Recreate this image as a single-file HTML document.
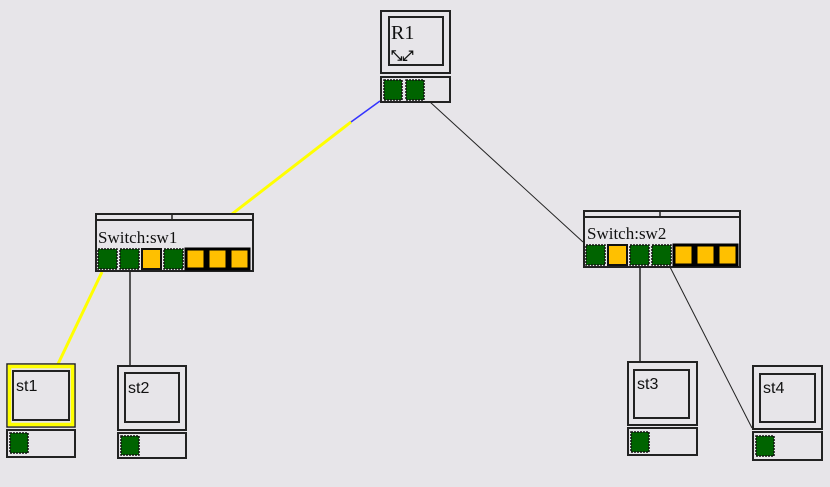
<!DOCTYPE html>
<html><head><meta charset="utf-8"><style>
html,body{margin:0;padding:0;background:#e7e5e9;}
svg{display:block}
text{font-family:"Liberation Serif",serif;font-size:17px;fill:#111}
.b{fill:none;stroke:#222;stroke-width:2}
.g{fill:#006400;stroke:#111;stroke-width:1.5;stroke-dasharray:2 1}
.y{fill:#ffc000;stroke:#111;stroke-width:2}
.yb{fill:#ffc000;stroke:#000;stroke-width:3}
.s{font-family:"Liberation Sans",sans-serif;font-size:16px}
</style></head><body>
<svg width="830" height="487" viewBox="0 0 830 487" xmlns="http://www.w3.org/2000/svg">
<line x1="232" y1="214" x2="351" y2="122" stroke="#ffff00" stroke-width="3"/>
<line x1="351" y1="122" x2="380" y2="101" stroke="#3333ff" stroke-width="1.5"/>
<line x1="430" y1="102" x2="583" y2="242" stroke="#222" stroke-width="1"/>
<line x1="102" y1="272" x2="58" y2="364" stroke="#ffff00" stroke-width="3"/>
<line x1="130" y1="272" x2="130" y2="366" stroke="#222" stroke-width="1.5"/>
<line x1="640" y1="267" x2="640" y2="362" stroke="#222" stroke-width="1.5"/>
<line x1="670" y1="267" x2="752" y2="428" stroke="#222" stroke-width="1"/>

<rect x="381" y="11" width="69" height="62" class="b"/>
<rect x="389" y="17" width="54" height="48" class="b"/>
<text x="391" y="39" style="font-size:20px">R1</text>
<text x="391" y="60" style="font-size:14px;font-family:'DejaVu Sans',sans-serif;font-weight:bold">⤡⤢</text>
<rect x="381" y="77" width="69" height="25" class="b"/>
<rect x="384" y="80" width="18" height="20" class="g"/>
<rect x="406" y="80" width="18" height="20" class="g"/>

<rect x="96" y="214" width="157" height="6" class="b"/>
<line x1="172" y1="214" x2="172" y2="220" stroke="#222" stroke-width="1.5"/>
<rect x="96" y="220" width="157" height="51" class="b"/>
<text x="98" y="243">Switch:sw1</text>
<rect x="98" y="249" width="19" height="20" class="g"/>
<rect x="120" y="249" width="19" height="20" class="g"/>
<rect x="142" y="249" width="19" height="20" class="y"/>
<rect x="164" y="249" width="19" height="20" class="g"/>
<rect x="186" y="249" width="19" height="20" class="yb"/>
<rect x="208" y="249" width="19" height="20" class="yb"/>
<rect x="230" y="249" width="19" height="20" class="yb"/>

<rect x="584" y="211" width="156" height="6" class="b"/>
<line x1="660" y1="211" x2="660" y2="217" stroke="#222" stroke-width="1.5"/>
<rect x="584" y="217" width="156" height="50" class="b"/>
<text x="587" y="239">Switch:sw2</text>
<rect x="586" y="245" width="19" height="20" class="g"/>
<rect x="608" y="245" width="19" height="20" class="y"/>
<rect x="630" y="245" width="19" height="20" class="g"/>
<rect x="652" y="245" width="19" height="20" class="g"/>
<rect x="674" y="245" width="19" height="20" class="yb"/>
<rect x="696" y="245" width="19" height="20" class="yb"/>
<rect x="718" y="245" width="19" height="20" class="yb"/>

<rect x="7" y="364" width="68" height="63" fill="none" stroke="#222" stroke-width="1.5"/>
<rect x="9.5" y="366.5" width="63" height="58" fill="none" stroke="#ffff00" stroke-width="3.5"/>
<rect x="13" y="371" width="56" height="49" class="b"/>
<text x="16" y="391" class="s">st1</text>
<rect x="7" y="430" width="68" height="27" class="b"/>
<rect x="10" y="433" width="18" height="20" class="g"/>

<rect x="118" y="366" width="68" height="64" class="b"/>
<rect x="125" y="373" width="54" height="49" class="b"/>
<text x="128" y="393" class="s">st2</text>
<rect x="118" y="433" width="68" height="25" class="b"/>
<rect x="121" y="436" width="18" height="19" class="g"/>

<rect x="628" y="362" width="69" height="63" class="b"/>
<rect x="634" y="370" width="55" height="48" class="b"/>
<text x="637" y="389" class="s">st3</text>
<rect x="628" y="428" width="69" height="27" class="b"/>
<rect x="631" y="432" width="18" height="20" class="g"/>

<rect x="753" y="366" width="69" height="63" class="b"/>
<rect x="760" y="374" width="55" height="48" class="b"/>
<text x="763" y="393" class="s">st4</text>
<rect x="753" y="432" width="69" height="28" class="b"/>
<rect x="756" y="436" width="18" height="20" class="g"/>
</svg>
</body></html>
